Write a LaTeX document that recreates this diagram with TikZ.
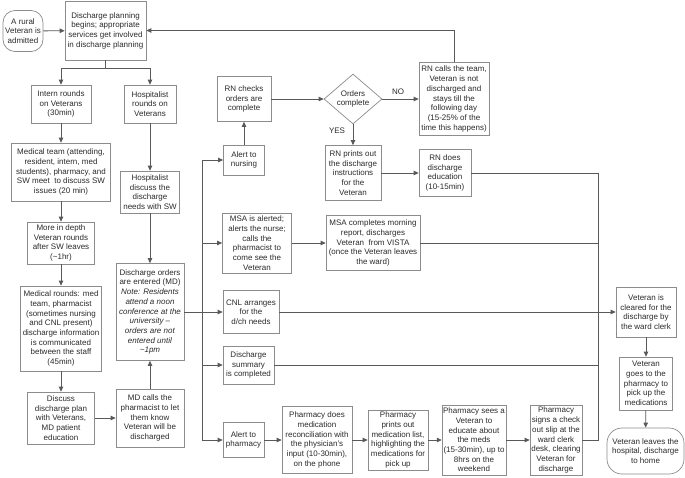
\documentclass[tikz,border=0pt]{standalone}
\usepackage{fontspec}
\setmainfont{Liberation Sans}
\usetikzlibrary{arrows.meta,shapes.geometric}
\definecolor{bordergray}{HTML}{8C8C8C}
\definecolor{linegray}{HTML}{595959}
\definecolor{textgray}{HTML}{2B2B2B}
\tikzset{
  box/.style={draw=bordergray, line width=0.7pt, fill=white, align=center,
    inner xsep=1pt, inner ysep=1pt, font=\fontsize{8}{9.7}\selectfont, text=textgray},
  sz/.style 2 args={minimum width=#1pt, minimum height=#2pt},
  arr/.style={draw=linegray, line width=0.8pt, -{Triangle[length=5pt,width=4.5pt]}},
  ln/.style={draw=linegray, line width=0.8pt},
  lbl/.style={font=\fontsize{8}{9.7}\selectfont, text=textgray, inner sep=0pt},
}
\begin{document}
\begin{tikzpicture}[x=1pt,y=-1pt]
\useasboundingbox (0,0) rectangle (685,477);
% left column
\node[box, sz={40}{41}, rounded corners=12pt] (rural) at (23,31) {A rural\\Veteran is\\admitted};
\node[box, sz={81}{59}] (plan) at (105.5,30.5) {Discharge planning\\begins; appropriate\\services get involved\\in discharge planning};
\node[box, sz={60}{38}] (intern) at (61,104) {Intern rounds\\on Veterans\\(30min)};
\node[box, sz={52}{38}] (hosp) at (150,104) {Hospitalist\\rounds on\\Veterans};
\node[box, sz={99}{58}] (medteam) at (61,172) {Medical team (attending,\\resident, intern, med\\students), pharmacy, and\\SW meet\ \ to discuss SW\\issues (20 min)};
\node[box, sz={67}{42}] (depth) at (61,243) {More in depth\\Veteran rounds\\after SW leaves\\(\textasciitilde1hr)};
\node[box, sz={81}{85}] (medrounds) at (61,328.5) {Medical rounds: med\\team, pharmacist\\(sometimes nursing\\and CNL present)\\discharge information\\is communicated\\between the staff\\(45min)};
\node[box, sz={67}{52}] (discuss) at (61,418) {Discuss\\discharge plan\\with Veterans,\\MD patient\\education};
\node[box, sz={59}{42}] (hdiscuss) at (150,192) {Hospitalist\\discuss the\\discharge\\needs with SW};
\node[box, sz={68}{97}] (orders) at (150,312) {Discharge orders\\are entered (MD)\\\textit{Note: Residents}\\\textit{attend a noon}\\\textit{conference at the}\\\textit{university –}\\\textit{orders are not}\\\textit{entered until}\\\textit{\textasciitilde1pm}};
\node[box, sz={68}{58}] (mdcalls) at (150,418) {MD calls the\\pharmacist to let\\them know\\Veteran will be\\discharged};
% nursing
\node[box, sz={41}{30}] (alertn) at (244,160) {Alert to\\nursing};
\node[box, sz={54}{45}] (rnchecks) at (244,99) {RN checks\\orders are\\complete};
\node[box, shape=diamond, sz={58}{50}, inner sep=0pt] (dia) at (353,99) {Orders\\complete};
\node[box, sz={70}{73}] (rncalls) at (454,99) {RN calls the team,\\Veteran is not\\discharged and\\stays till the\\following day\\(15-25\% of the\\time this happens)};
\node[box, sz={56}{55}] (rnprints) at (353,173) {RN prints out\\the discharge\\instructions\\for the\\Veteran};
\node[box, sz={52}{47}] (rndoes) at (445,173) {RN does\\discharge\\education\\(10-15min)};
\node[lbl] (no) at (398,92) {NO};
\node[lbl] (yes) at (337,131) {YES};
% middle
\node[box, sz={69}{60}] (msa) at (257,243) {MSA is alerted;\\alerts the nurse;\\calls the\\pharmacist to\\come see the\\Veteran};
\node[box, sz={94}{55}] (msacomp) at (373,243) {MSA completes morning\\report, discharges\\Veteran\ \ from VISTA\\(once the Veteran leaves\\the ward)};
\node[box, sz={56}{43}] (cnl) at (251,312) {CNL arranges\\for the\\d/ch needs};
\node[box, sz={51}{38}] (dsum) at (248.5,365) {Discharge\\summary\\is completed};
% pharmacy
\node[box, sz={41}{35}] (alertp) at (243.5,440) {Alert to\\pharmacy};
\node[box, sz={70}{67}] (pdoes) at (317,440) {Pharmacy does\\medication\\reconciliation with\\the physician's\\input (10-30min),\\on the phone};
\node[box, sz={60}{60}] (pprints) at (398,440) {Pharmacy\\prints out\\medication list,\\highlighting the\\medications for\\pick up};
\node[box, sz={60}{70}] (psees) at (474,440) {Pharmacy sees a\\Veteran to\\educate about\\the meds\\(15-30min), up to\\8hrs on the\\weekend};
\node[box, sz={52}{70}] (psigns) at (556,440) {Pharmacy\\signs a check\\out slip at the\\ward clerk\\desk, clearing\\Veteran for\\discharge};
% right
\node[box, sz={60}{50}] (cleared) at (646,312) {Veteran is\\cleared for the\\discharge by\\the ward clerk};
\node[box, sz={53}{53}] (goes) at (646,383.5) {Veteran\\goes to the\\pharmacy to\\pick up the\\medications};
\node[box, sz={77}{46}, rounded corners=15pt] (leaves) at (645.5,451) {Veteran leaves the\\hospital, discharge\\to home};
% connectors
\draw[arr] (rural) -- (plan);
\draw[ln] (plan.south) -- ++(0,8) coordinate (split);
\draw[arr] (split) -| (intern.north);
\draw[arr] (split) -| (hosp.north);
\draw[arr] (intern) -- (medteam);
\draw[arr] (medteam) -- (depth);
\draw[arr] (depth) -- (medrounds);
\draw[arr] (medrounds) -- (discuss);
\draw[arr] (discuss) -- (mdcalls);
\draw[arr] (mdcalls) -- (orders);
\draw[arr] (hosp) -- (hdiscuss);
\draw[arr] (hdiscuss) -- (orders);
\draw[arr] (orders) -- (cnl);
\coordinate (bt) at (202,160);
\coordinate (bb) at (202,440);
\draw[ln] (bt) -- (bb);
\draw[arr] (bt) -- (alertn);
\draw[arr] (bt |- msa.west) -- (msa.west);
\draw[arr] (bt |- dsum.west) -- (dsum.west);
\draw[arr] (bb) -- (alertp);
\draw[arr] (alertn) -- (rnchecks);
\draw[arr] (rnchecks) -- (dia);
\draw[arr] (dia) -- (rncalls);
\draw[arr] (dia) -- (rnprints);
\draw[arr] (rnprints) -- (rndoes);
\draw[arr] (rncalls.north) |- (plan.east);
\draw[arr] (msa) -- (msacomp);
\coordinate (rt) at (598,173);
\coordinate (rb) at (598,440);
\draw[ln] (rndoes.east) -- (rt) -- (rb) -- (psigns.east);
\draw[ln] (msacomp.east) -- (rt |- msacomp.east);
\draw[ln] (dsum.east) -- (rt |- dsum.east);
\draw[arr] (cnl) -- (cleared);
\draw[arr] (alertp) -- (pdoes);
\draw[arr] (pdoes) -- (pprints);
\draw[arr] (pprints) -- (psees);
\draw[arr] (psees) -- (psigns);
\draw[arr] (cleared) -- (goes);
\draw[arr] (goes) -- (leaves);
\end{tikzpicture}
\end{document}
